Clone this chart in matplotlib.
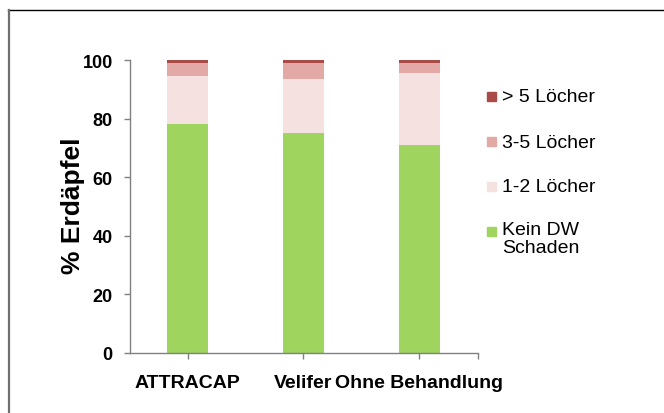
import numpy as np
import matplotlib.pyplot as plt
from matplotlib.lines import Line2D
from matplotlib.patches import Rectangle

plt.rcParams['font.family'] = ['Liberation Sans', 'DejaVu Sans']

categories = ["ATTRACAP", "Velifer", "Ohne Behandlung"]
kein = [78, 75, 71]
loch12 = [16.5, 18.5, 24.5]
loch35 = [4.5, 5.5, 3.5]
loch5 = [1, 1, 1]

series = [kein, loch12, loch35, loch5]
labels = ["Kein DW\nSchaden", "1-2 Löcher", "3-5 Löcher", "> 5 Löcher"]
colors = ["#9fd45f", "#f4e1e0", "#e3a9a7", "#a94b47"]

fig = plt.figure(figsize=(6.64, 4.14), dpi=100)
ax = fig.add_axes([130/664, 1 - 354/414, 348/664, 293/414])

x = np.arange(len(categories))
bottom = np.zeros(len(categories))
for vals, col in zip(series, colors):
    ax.bar(x, vals, 0.355, bottom=bottom, color=col)
    bottom += np.array(vals)

ax.set_xlim(-0.5, 2.51)
ax.set_ylim(0, 100)
ax.set_yticks([0, 20, 40, 60, 80, 100])
ax.set_xticks(x)
ax.set_xticklabels(categories, fontsize=14, fontweight='bold')
ax.set_xticks([2.51], minor=True)
for lab in ax.get_yticklabels():
    lab.set_fontsize(13)
    lab.set_fontweight('bold')
ax.tick_params(axis='y', length=4, width=1, color='#808080', pad=8.5)
ax.tick_params(axis='x', which='both', length=4, width=1, color='#808080', pad=11)
ax.spines['top'].set_visible(False)
ax.spines['right'].set_visible(False)
for s in ['left', 'bottom']:
    ax.spines[s].set_color('#808080')
    ax.spines[s].set_linewidth(1)

ax.set_ylabel("% Erdäpfel", fontsize=19, fontweight='bold')
ax.yaxis.set_label_coords(-0.128, 0.505)

# legend drawn by hand, top entry first
leg_y = [233, 188, 143, 98]
for lab, col, yy in zip(labels, colors, leg_y):
    fig.add_artist(Rectangle((487/664, 1 - (yy + 4) / 414), 9/664, 9/414,
                             transform=fig.transFigure, color=col))
    if '\n' in lab:
        fig.text(502/664, 1 - (yy - 11)/414, lab, fontsize=14, va='top',
                 ha='left', linespacing=1.1)
    else:
        fig.text(502/664, 1 - yy/414, lab, fontsize=14, va='center', ha='left')

# chart area border
fig.add_artist(Line2D([8/664, 1], [1 - 11/414, 1 - 11/414], color='black', lw=1))
fig.add_artist(Line2D([8.5/664, 8.5/664], [0, 1 - 11/414], color='#707070', lw=1.6))

fig.savefig("out.png", dpi=100)
